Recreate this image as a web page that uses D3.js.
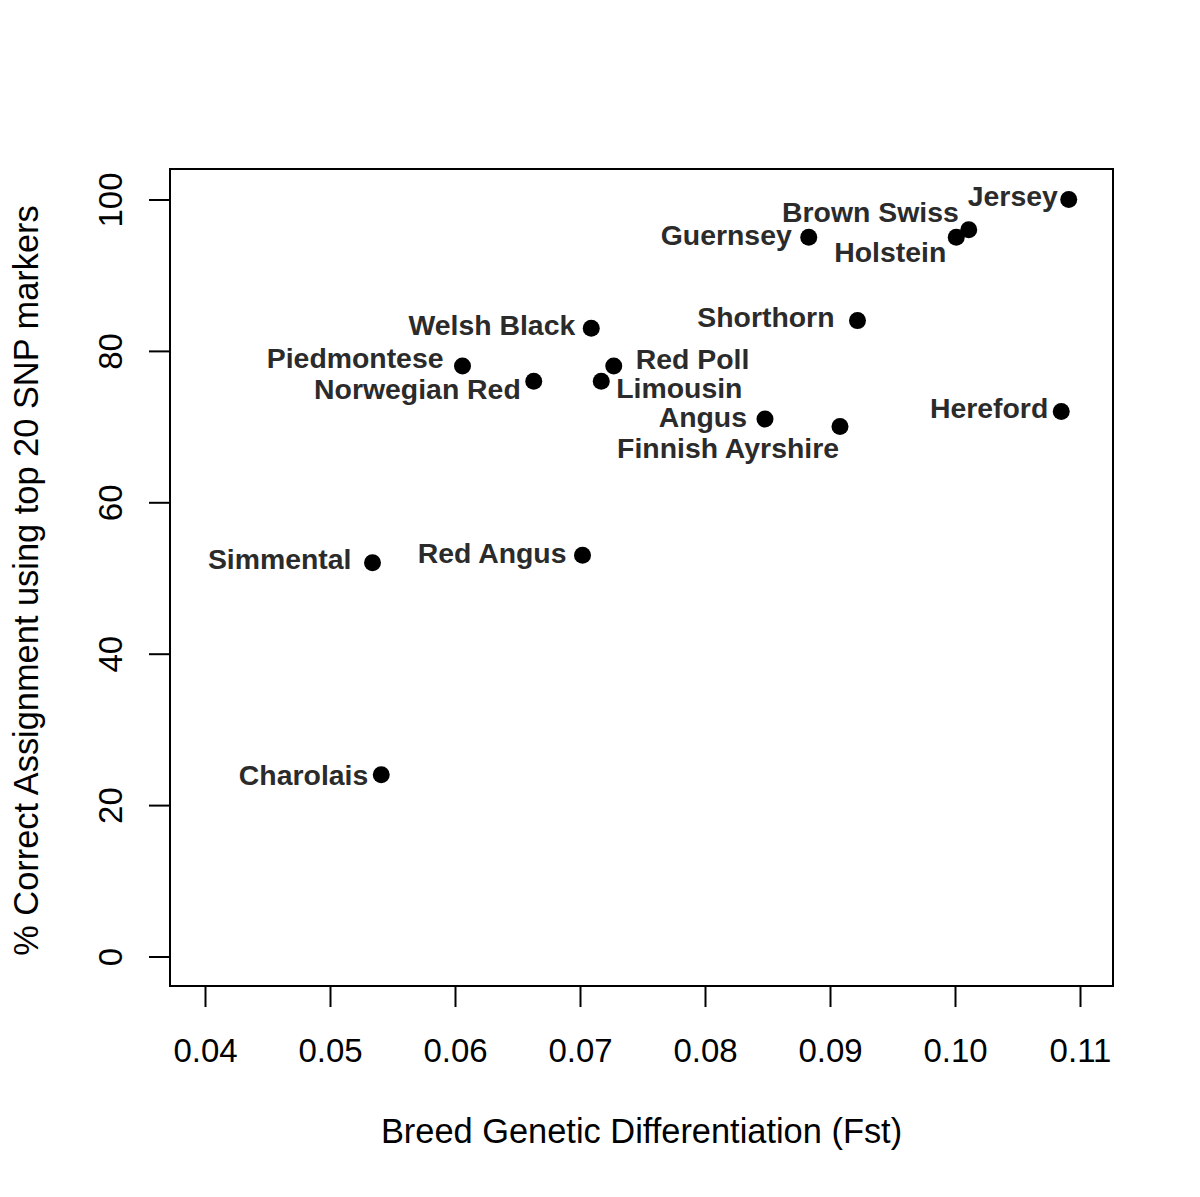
<!DOCTYPE html>
<html>
<head>
<meta charset="utf-8">
<script src="https://cdn.jsdelivr.net/npm/d3@7"></script>
<style>
  body { margin: 0; background: #fff; }
  svg { display: block; }
</style>
</head>
<body>
<div id="chart"></div>
<script>
// breeds, Fst and % correct assignment
const breeds = ["Jersey", "Brown Swiss", "Holstein", "Guernsey", "Shorthorn", "Welsh Black",
  "Red Poll", "Piedmontese", "Norwegian Red", "Limousin", "Angus", "Finnish Ayrshire",
  "Hereford", "Simmental", "Red Angus", "Charolais"];
const fst = [0.1091, 0.1011, 0.1001, 0.0883, 0.0922, 0.0709,
  0.0727, 0.0606, 0.0663, 0.0717, 0.0848, 0.0908,
  0.1085, 0.0534, 0.0702, 0.0541];
const correct = [100, 96, 95, 95, 84, 83,
  78, 78, 76, 76, 71, 70,
  72, 52, 53, 24];
const xTicks = [0.04, 0.05, 0.06, 0.07, 0.08, 0.09, 0.10, 0.11];
const yTicks = [0, 20, 40, 60, 80, 100];

// label nudges (px): dx, dy, anchor
const labelPos = {
  "Jersey": [-11, -3, "end"],
  "Brown Swiss": [-10, -18, "end"],
  "Holstein": [-10, 15, "end"],
  "Guernsey": [-17, -2, "end"],
  "Shorthorn": [-23, -4, "end"],
  "Welsh Black": [-16, -3, "end"],
  "Red Poll": [22, -7, "start"],
  "Piedmontese": [-19, -8, "end"],
  "Norwegian Red": [-13, 8, "end"],
  "Limousin": [15, 7, "start"],
  "Angus": [-18, -2, "end"],
  "Finnish Ayrshire": [-1, 21, "end"],
  "Hereford": [-13, -3, "end"],
  "Simmental": [-21, -4, "end"],
  "Red Angus": [-16, -2, "end"],
  "Charolais": [-13, 0, "end"]
};

const width = 1200, height = 1197;
const box = { left: 170, right: 1113, top: 169, bottom: 986 };

const svg = d3.select("#chart").append("svg")
  .attr("width", width)
  .attr("height", height)
  .style("font-family", "'Liberation Sans', Arial, Helvetica, sans-serif");

const x = d3.scaleLinear().domain([0.04, 0.11]).range([205, 1080]);
const y = d3.scaleLinear().domain([0, 100]).range([956.5, 199.5]);

// frame
svg.append("rect")
  .attr("x", box.left).attr("y", box.top)
  .attr("width", box.right - box.left).attr("height", box.bottom - box.top)
  .attr("fill", "none").attr("stroke", "#000").attr("stroke-width", 2);

// x axis
const xAxis = svg.append("g")
  .attr("transform", `translate(0,${box.bottom})`)
  .call(d3.axisBottom(x).tickValues(xTicks).tickSize(21).tickPadding(30)
    .tickFormat(d3.format(".2f")).tickSizeOuter(0));
xAxis.select(".domain")
  .attr("d", `M${x(0.04)},0H${x(0.11)}`).attr("stroke-width", 2);
xAxis.selectAll(".tick line").attr("stroke-width", 2);
xAxis.selectAll(".tick text")
  .attr("font-size", 33).attr("fill", "#000")
  .attr("dy", null).attr("y", 76);

// y axis
const yAxis = svg.append("g")
  .attr("transform", `translate(${box.left},0)`)
  .call(d3.axisLeft(y).tickValues(yTicks).tickSize(21).tickSizeOuter(0));
yAxis.select(".domain")
  .attr("d", `M0,${y(0)}V${y(100)}`).attr("stroke-width", 2);
yAxis.selectAll(".tick line").attr("stroke-width", 2);
yAxis.selectAll(".tick text")
  .attr("font-size", 33).attr("fill", "#000")
  .attr("x", null).attr("dy", null)
  .attr("text-anchor", "middle")
  .attr("transform", "translate(-48,0) rotate(-90)");

// axis titles
svg.append("text")
  .attr("x", (box.left + box.right) / 2).attr("y", 1143)
  .attr("text-anchor", "middle").attr("font-size", 34.4)
  .text("Breed Genetic Differentiation (Fst)");

svg.append("text")
  .attr("transform", `translate(38,${(box.top + box.bottom) / 2 + 3}) rotate(-90)`)
  .attr("text-anchor", "middle").attr("font-size", 34.4)
  .text("% Correct Assignment using top 20 SNP markers");

// points
const pts = breeds.map((b, i) => ({ name: b, fst: fst[i], pct: correct[i] }));

svg.append("g").selectAll("circle")
  .data(pts).enter().append("circle")
  .attr("cx", d => x(d.fst))
  .attr("cy", d => y(d.pct))
  .attr("r", 8.5)
  .attr("fill", "#000");

svg.append("g").selectAll("text")
  .data(pts).enter().append("text")
  .attr("x", d => x(d.fst) + labelPos[d.name][0])
  .attr("y", d => y(d.pct) + labelPos[d.name][1])
  .attr("dy", "0.35em")
  .attr("text-anchor", d => labelPos[d.name][2])
  .attr("font-size", 28.4)
  .attr("font-weight", "bold")
  .attr("fill", "#2b2b2b")
  .text(d => d.name);
</script>
</body>
</html>
